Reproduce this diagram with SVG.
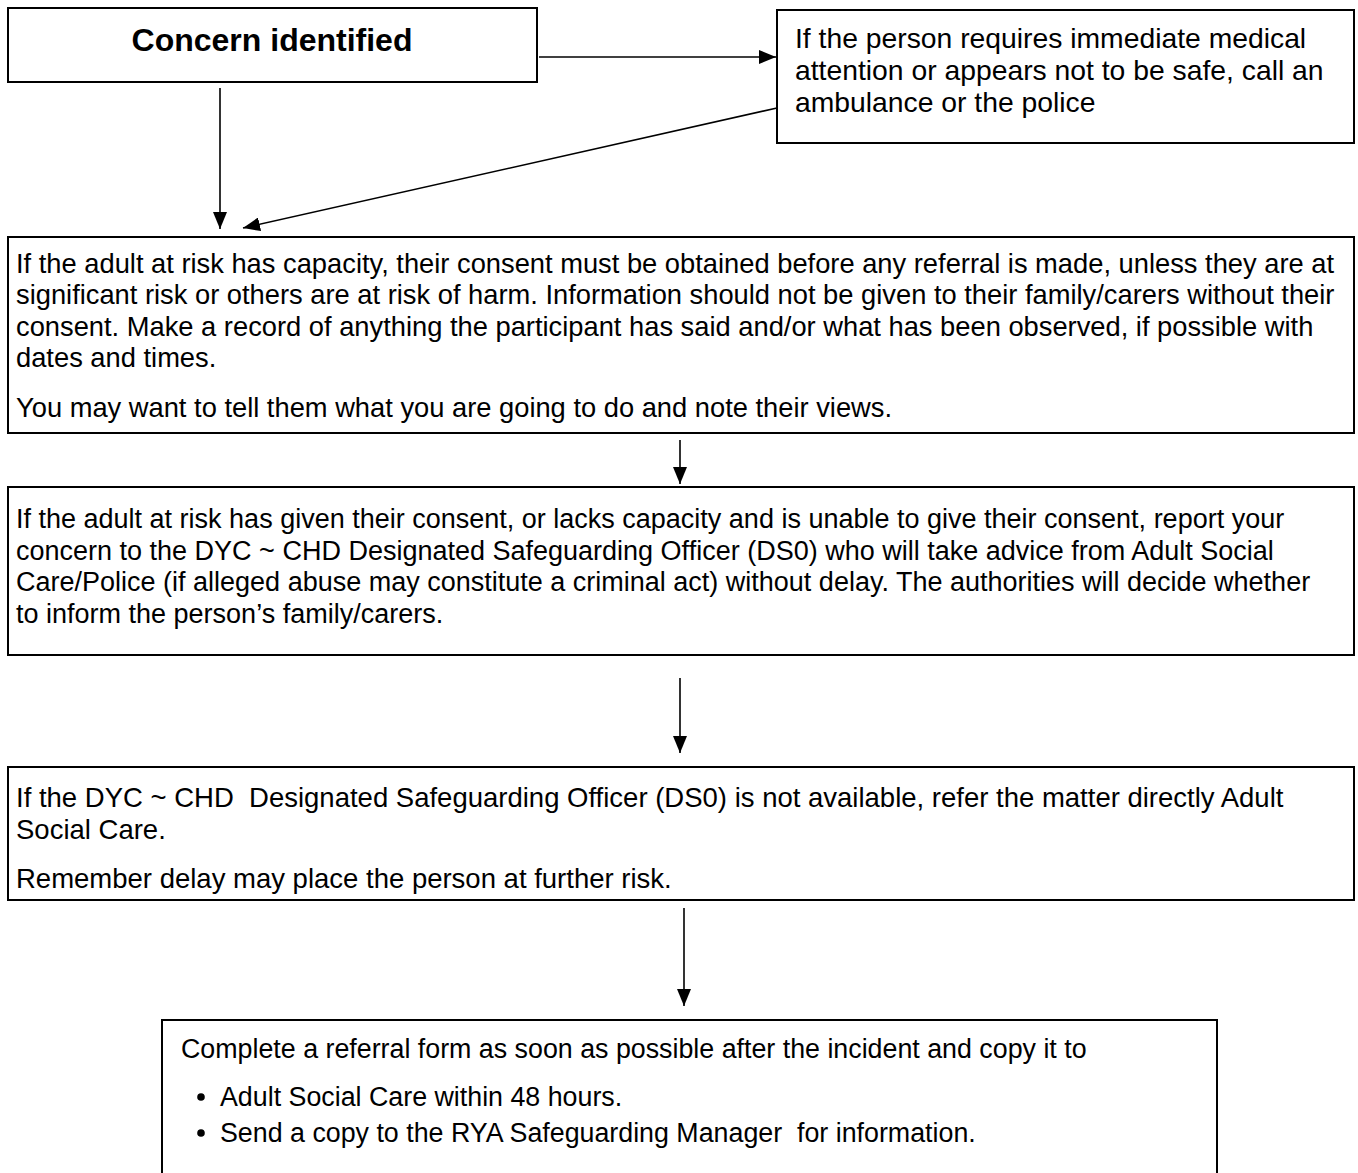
<svg xmlns="http://www.w3.org/2000/svg" width="1358" height="1173" viewBox="0 0 1358 1173">
<style>
.box{fill:#fff;stroke:#000;stroke-width:2}
.t{font-family:"Liberation Sans",Arial,sans-serif;font-size:27.3px;fill:#000}
.title{font-family:"Liberation Sans",Arial,sans-serif;font-size:32px;font-weight:bold;fill:#000}
.c{stroke:#000;stroke-width:1.6;fill:none}
</style>
<defs>
<marker id="ah" markerUnits="userSpaceOnUse" markerWidth="17" markerHeight="14" viewBox="0 0 17 14" refX="17" refY="7" orient="auto">
<path d="M0,0 L17,7 L0,14 Z" fill="#000"/>
</marker>
</defs>
<rect width="1358" height="1173" fill="#fff"/>
<g id="connectors">
<line class="c" x1="539" y1="57" x2="776" y2="57" marker-end="url(#ah)"/>
<line class="c" x1="220" y1="88" x2="220" y2="229" marker-end="url(#ah)"/>
<line class="c" x1="777" y1="108" x2="243" y2="228" marker-end="url(#ah)"/>
<line class="c" x1="680" y1="440" x2="680" y2="484" marker-end="url(#ah)"/>
<line class="c" x1="680" y1="678" x2="680" y2="753" marker-end="url(#ah)"/>
<line class="c" x1="684" y1="908" x2="684" y2="1006" marker-end="url(#ah)"/>
</g>
<g id="n1">
<rect class="box" x="8" y="8" width="529" height="74"/>
<text class="title" x="272" y="51" text-anchor="middle">Concern identified</text>
</g>
<g id="n2">
<rect class="box" x="777" y="10" width="577" height="133"/>
<text class="t" style="font-size:28.3px" x="795" y="48">If the person requires immediate medical</text>
<text class="t" style="font-size:28.3px" x="795" y="80">attention or appears not to be safe, call an</text>
<text class="t" style="font-size:28.3px" x="795" y="112">ambulance or the police</text>
</g>
<g id="n3">
<rect class="box" x="8" y="237" width="1346" height="196"/>
<text class="t" x="16" y="273">If the adult at risk has capacity, their consent must be obtained before any referral is made, unless they are at</text>
<text class="t" x="16" y="304">significant risk or others are at risk of harm. Information should not be given to their family/carers without their</text>
<text class="t" x="16" y="336">consent. Make a record of anything the participant has said and/or what has been observed, if possible with</text>
<text class="t" x="16" y="367">dates and times.</text>
<text class="t" x="16" y="417">You may want to tell them what you are going to do and note their views.</text>
</g>
<g id="n4">
<rect class="box" x="8" y="487" width="1346" height="168"/>
<text class="t" style="font-size:27px" x="16" y="528">If the adult at risk has given their consent, or lacks capacity and is unable to give their consent, report your</text>
<text class="t" style="font-size:27px" x="16" y="560">concern to the DYC ~ CHD Designated Safeguarding Officer (DS0) who will take advice from Adult Social</text>
<text class="t" style="font-size:27px" x="16" y="591">Care/Police (if alleged abuse may constitute a criminal act) without delay. The authorities will decide whether</text>
<text class="t" style="font-size:27px" x="16" y="623">to inform the person’s family/carers.</text>
</g>
<g id="n5">
<rect class="box" x="8" y="767" width="1346" height="133"/>
<text class="t" style="font-size:27.5px" x="16" y="807" xml:space="preserve">If the DYC ~ CHD  Designated Safeguarding Officer (DS0) is not available, refer the matter directly Adult</text>
<text class="t" style="font-size:27.5px" x="16" y="839">Social Care.</text>
<text class="t" style="font-size:27.5px" x="16" y="888">Remember delay may place the person at further risk.</text>
</g>
<g id="n6">
<rect class="box" x="162" y="1020" width="1055" height="170"/>
<text class="t" style="font-size:26.8px" x="181" y="1058">Complete a referral form as soon as possible after the incident and copy it to</text>
<circle cx="201" cy="1097" r="3.8" fill="#000"/>
<text class="t" style="font-size:26.8px" x="220" y="1106">Adult Social Care within 48 hours.</text>
<circle cx="201" cy="1133" r="3.8" fill="#000"/>
<text class="t" style="font-size:26.8px" x="220" y="1142" xml:space="preserve">Send a copy to the RYA Safeguarding Manager  for information.</text>
</g>
</svg>
